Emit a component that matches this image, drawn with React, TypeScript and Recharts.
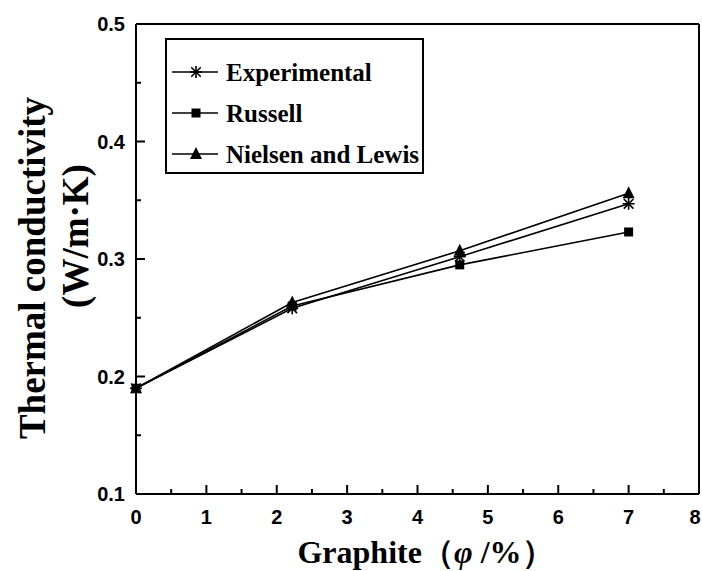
import { LineChart, Line, XAxis, YAxis, Legend } from 'recharts';

// graphite content (phi / %)
const graphite = [0, 2.22, 4.6, 7];
const experimental = [0.19, 0.258, 0.302, 0.347];
const russell = [0.19, 0.26, 0.295, 0.323];
const nielsenLewis = [0.19, 0.263, 0.307, 0.356];

const seriesNames = ['Experimental', 'Russell', 'Nielsen and Lewis'];
const xTicks = [0, 0.5, 1, 1.5, 2, 2.5, 3, 3.5, 4, 4.5, 5, 5.5, 6, 6.5, 7, 7.5, 8];
const yTicks = [0.1, 0.15, 0.2, 0.25, 0.3, 0.35, 0.4, 0.45, 0.5];

const data = graphite.map((g, i) => ({
  graphite: g,
  experimental: experimental[i],
  russell: russell[i],
  nielsen: nielsenLewis[i],
}));

const serif = '"Liberation Serif", "Times New Roman", serif';
const sans = '"Liberation Sans", Arial, sans-serif';

function Star({ cx, cy }: { cx: number; cy: number }) {
  const r = 6;
  const d = r * 0.8;
  return (
    <g stroke="#000" strokeWidth={1.6}>
      <line x1={cx} y1={cy - r} x2={cx} y2={cy + r} />
      <line x1={cx - d} y1={cy - d} x2={cx + d} y2={cy + d} />
      <line x1={cx - d} y1={cy + d} x2={cx + d} y2={cy - d} />
      <line x1={cx - r} y1={cy} x2={cx + r} y2={cy} />
    </g>
  );
}

function Square({ cx, cy }: { cx: number; cy: number }) {
  return <rect x={cx - 4.5} y={cy - 4.5} width={9} height={9} fill="#000" />;
}

function Triangle({ cx, cy }: { cx: number; cy: number }) {
  return <polygon points={`${cx},${cy - 7} ${cx - 6},${cy + 5} ${cx + 6},${cy + 5}`} fill="#000" />;
}

const markers = [Star, Square, Triangle];

const isMajor = (v: number, step: number) => Math.abs(v / step - Math.round(v / step)) < 1e-6;

function XTick(props: any) {
  const { x, y, payload } = props;
  const major = isMajor(payload.value, 1);
  // last label sits on the page edge, nudge it in a little
  const lx = payload.value === 8 ? x - 4 : x;
  return (
    <g>
      <line x1={x} y1={y} x2={x} y2={y - (major ? 9 : 5)} stroke="#000" strokeWidth={2} />
      {major && (
        <text x={lx} y={y + 30} textAnchor="middle" fontFamily={sans} fontWeight="bold" fontSize={20} fill="#000">
          {payload.value}
        </text>
      )}
    </g>
  );
}

function YTick(props: any) {
  const { x, y, payload } = props;
  const major = isMajor(payload.value, 0.1);
  return (
    <g>
      <line x1={x} y1={y} x2={x + (major ? 9 : 5)} y2={y} stroke="#000" strokeWidth={2} />
      {major && (
        <text x={x - 11} y={y + 7} textAnchor="end" fontFamily={sans} fontWeight="bold" fontSize={20} fill="#000">
          {payload.value.toFixed(1)}
        </text>
      )}
    </g>
  );
}

function XTitle(props: any) {
  const { viewBox } = props;
  const cx = viewBox.x + viewBox.width / 2 + 8;
  return (
    <text x={cx} y={viewBox.y + 69} textAnchor="middle" fontFamily={serif} fontWeight="bold" fontSize={32} fill="#000">
      Graphite（<tspan fontStyle="italic">φ</tspan> /%）
    </text>
  );
}

function YTitle() {
  return (
    <g fontFamily={serif} fontWeight="bold" fontSize={37} fill="#000">
      <text x={0} y={0} textAnchor="middle" transform="translate(45 268) rotate(-90)">
        Thermal conductivity
      </text>
      <text x={0} y={0} textAnchor="middle" transform="translate(88 236) rotate(-90)">
        (W/m·K)
      </text>
    </g>
  );
}

function LegendBox() {
  const rows = [34, 75, 116];
  return (
    <svg width={259} height={136} style={{ display: 'block' }}>
      <rect x={1} y={1} width={257} height={134} fill="#fff" stroke="#000" strokeWidth={2} />
      {seriesNames.map((name, i) => {
        const M = markers[i];
        const y = rows[i];
        return (
          <g key={name}>
            <line x1={7} y1={y} x2={53} y2={y} stroke="#000" strokeWidth={1.6} />
            <M cx={31} cy={y} />
            <text x={61} y={y + 9} fontFamily={serif} fontWeight="bold" fontSize={25} fill="#000">
              {name}
            </text>
          </g>
        );
      })}
    </svg>
  );
}

const keys = ['experimental', 'russell', 'nielsen'];

export default function App() {
  return (
    <div style={{ position: 'absolute', left: 0, top: 0, background: '#fff' }}>
      <LineChart width={702} height={571} data={data} margin={{ top: 23, right: 2, bottom: 0, left: 0 }}>
        <XAxis
          dataKey="graphite"
          type="number"
          domain={[0, 8]}
          ticks={xTicks}
          interval={0}
          height={77}
          tickSize={0}
          tickMargin={0}
          tick={<XTick />}
          axisLine={{ stroke: '#000', strokeWidth: 2 }}
          label={{ content: <XTitle /> }}
        />
        <XAxis
          xAxisId="top"
          orientation="top"
          dataKey="graphite"
          type="number"
          domain={[0, 8]}
          height={1}
          tick={false}
          tickLine={false}
          axisLine={{ stroke: '#000', strokeWidth: 2 }}
        />
        <YAxis
          type="number"
          domain={[0.1, 0.5]}
          ticks={yTicks}
          interval={0}
          width={136}
          tickSize={0}
          tickMargin={0}
          tick={<YTick />}
          axisLine={{ stroke: '#000', strokeWidth: 2 }}
          label={{ content: <YTitle /> }}
        />
        <YAxis
          yAxisId="right"
          orientation="right"
          type="number"
          domain={[0.1, 0.5]}
          width={1}
          tick={false}
          tickLine={false}
          axisLine={{ stroke: '#000', strokeWidth: 2 }}
        />
        <Legend
          layout="horizontal"
          verticalAlign="middle"
          align="center"
          content={() => <LegendBox />}
          wrapperStyle={{ position: 'absolute', left: 165, top: 38, width: 259, height: 136 }}
        />
        {keys.map((k, i) => {
          const M = markers[i];
          return (
            <Line
              key={k}
              dataKey={k}
              name={seriesNames[i]}
              stroke="#000"
              strokeWidth={1.6}
              isAnimationActive={false}
              dot={(p: any) => <M key={`${k}-${p.index}`} cx={p.cx} cy={p.cy} />}
              activeDot={false}
            />
          );
        })}
      </LineChart>
    </div>
  );
}
